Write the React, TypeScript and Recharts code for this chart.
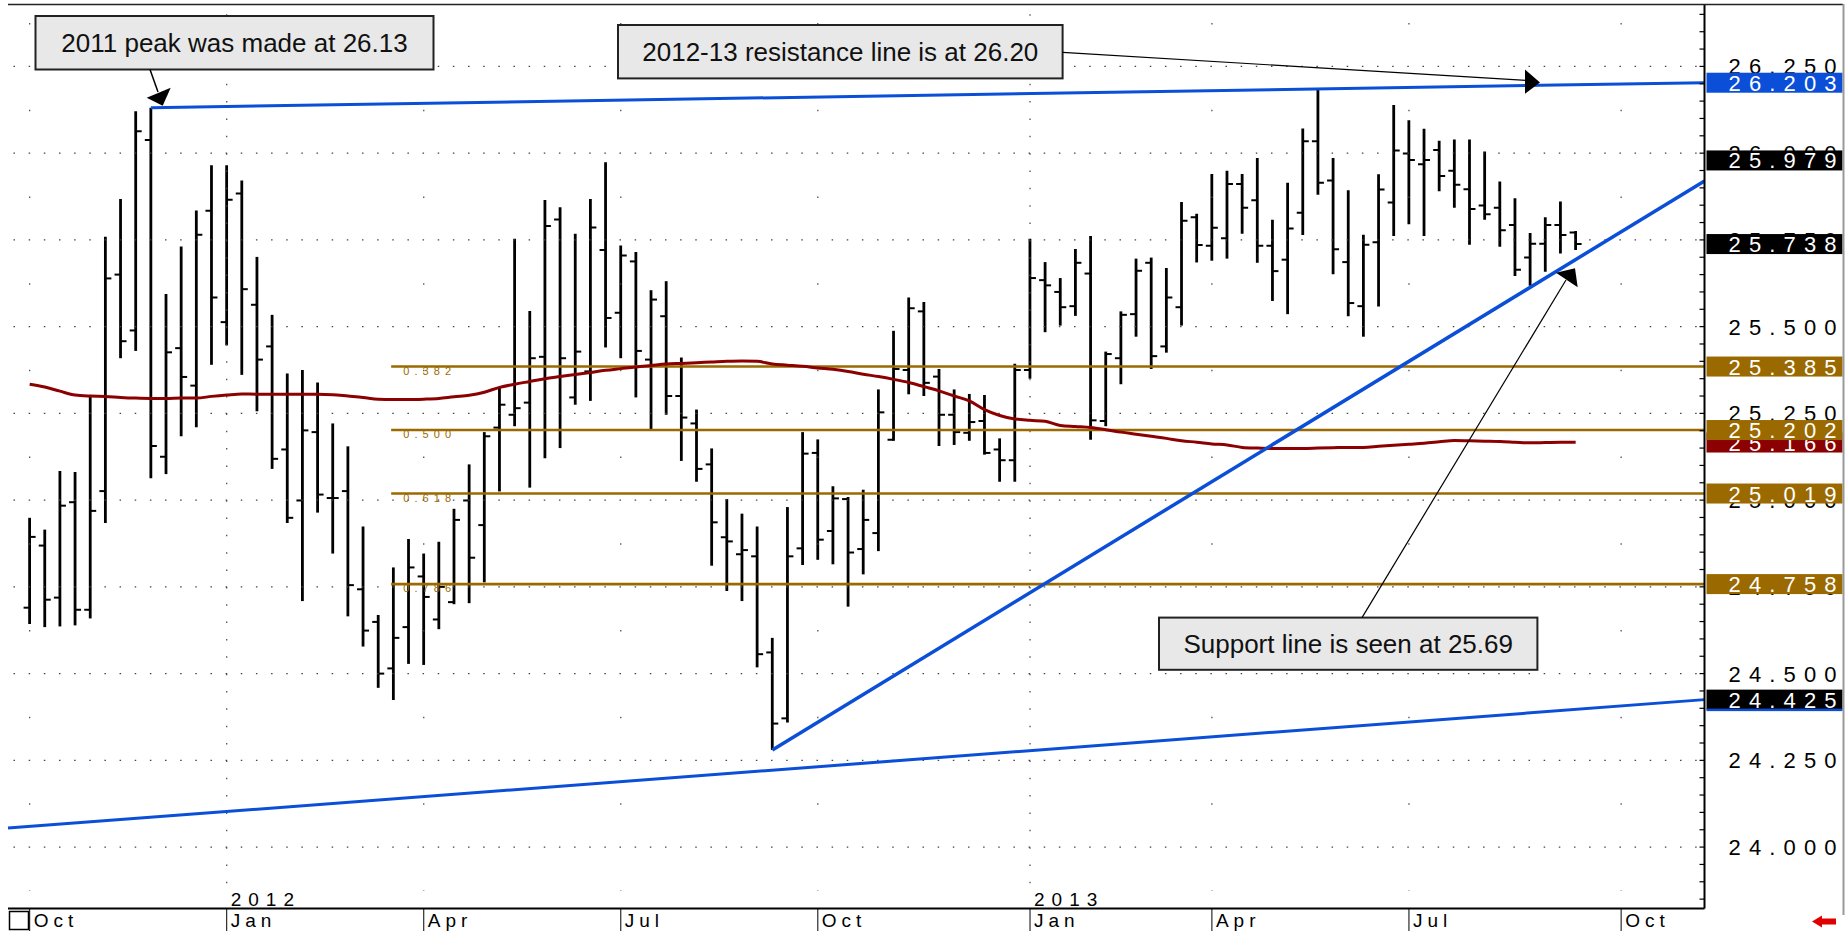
import React from "react";
import { ComposedChart, Bar, Line, XAxis, YAxis, ReferenceLine } from "recharts";

// weekly bars, Oct 2011 .. Aug 2013 (index = week number)
const opens = [
  24.69, 24.869, 24.719, 24.994, 24.684, 25.026, 25.65, 25.489, 26.038, 25.125,
  25.438, 25.33, 25.834, 25.513, 25.884, 25.563, 25.443, 25.146, 24.999, 25.196,
  25.006, 25.026, 24.743, 24.649, 24.515, 24.634, 24.78, 24.656, 24.706, 24.999,
  24.928, 25.209, 25.246, 25.281, 25.413, 25.809, 25.296, 25.371, 25.721, 25.54,
  25.688, 25.405, 25.53, 25.3, 25.221, 25.103, 24.893, 24.844, 24.838, 24.561,
  24.371, 24.861, 25.136, 24.911, 25.003, 24.859, 24.905, 25.174, 25.375, 25.544,
  25.356, 25.246, 25.194, 25.228, 25.146, 25.115, 25.375, 25.634, 25.6, 25.559,
  25.653, 25.228, 25.409, 25.536, 25.684, 25.443, 25.556, 25.815, 25.733, 25.755,
  25.911, 25.864, 25.733, 25.693, 25.828, 26.034, 25.921, 25.686, 25.559, 25.743,
  25.858, 25.999, 25.968, 26.009, 25.949, 25.896, 25.849, 25.843, 25.793, 25.699,
  25.739, 25.793, 25.771,
];
const highs = [
  24.949, 24.915, 25.084, 25.081, 25.303, 25.759, 25.868, 26.121, 26.131, 25.594,
  25.731, 25.835, 25.965, 25.965, 25.921, 25.701, 25.534, 25.365, 25.375, 25.339,
  25.221, 25.155, 24.924, 24.669, 24.806, 24.888, 24.846, 24.88, 24.975, 25.103,
  25.196, 25.325, 25.753, 25.545, 25.865, 25.844, 25.768, 25.868, 25.974, 25.734,
  25.715, 25.605, 25.631, 25.411, 25.261, 25.149, 25.003, 24.961, 24.924, 24.603,
  24.98, 25.196, 25.175, 25.04, 25.009, 25.03, 25.319, 25.488, 25.584, 25.571,
  25.378, 25.319, 25.306, 25.303, 25.178, 25.393, 25.753, 25.686, 25.64, 25.724,
  25.761, 25.428, 25.544, 25.696, 25.699, 25.669, 25.859, 25.825, 25.94, 25.949,
  25.94, 25.986, 25.808, 25.915, 26.071, 26.184, 25.986, 25.893, 25.765, 25.939,
  26.139, 26.095, 26.07, 26.036, 26.039, 26.039, 26.005, 25.918, 25.87, 25.77,
  25.815, 25.861, 25.776,
];
const lows = [
  24.643, 24.634, 24.636, 24.639, 24.659, 24.934, 25.409, 25.43, 25.063, 25.075,
  25.184, 25.21, 25.39, 25.446, 25.361, 25.256, 25.09, 24.934, 24.709, 24.964,
  24.846, 24.665, 24.578, 24.459, 24.424, 24.528, 24.525, 24.628, 24.7, 24.703,
  24.763, 25.025, 25.213, 25.036, 25.121, 25.15, 25.275, 25.286, 25.44, 25.409,
  25.296, 25.205, 25.246, 25.113, 25.053, 24.811, 24.738, 24.709, 24.518, 24.28,
  24.359, 24.813, 24.828, 24.815, 24.693, 24.786, 24.853, 25.171, 25.305, 25.3,
  25.156, 25.159, 25.171, 25.131, 25.053, 25.053, 25.35, 25.484, 25.503, 25.531,
  25.174, 25.213, 25.334, 25.471, 25.378, 25.425, 25.503, 25.685, 25.69, 25.696,
  25.768, 25.684, 25.574, 25.536, 25.764, 25.88, 25.651, 25.53, 25.471, 25.558,
  25.761, 25.795, 25.761, 25.89, 25.843, 25.736, 25.808, 25.73, 25.646, 25.618,
  25.658, 25.711, 25.721,
];
const closes = [
  24.894, 24.713, 24.984, 24.684, 24.969, 25.639, 25.458, 26.063, 25.156, 25.426,
  25.355, 25.765, 25.584, 25.866, 25.608, 25.405, 25.119, 24.949, 25.201, 25.016,
  25.006, 24.755, 24.624, 24.5, 24.603, 24.806, 24.721, 24.75, 24.943, 24.834,
  25.184, 25.275, 25.265, 25.409, 25.79, 25.409, 25.428, 25.786, 25.525, 25.705,
  25.43, 25.578, 25.3, 25.238, 25.09, 24.936, 24.881, 24.856, 24.556, 24.356,
  24.838, 25.134, 24.886, 25.005, 24.849, 24.943, 25.253, 25.378, 25.553, 25.338,
  25.246, 25.196, 25.225, 25.136, 25.115, 25.375, 25.64, 25.619, 25.556, 25.684,
  25.23, 25.421, 25.534, 25.661, 25.415, 25.584, 25.805, 25.735, 25.785, 25.911,
  25.843, 25.733, 25.66, 25.783, 26.034, 25.915, 25.723, 25.568, 25.736, 25.895,
  26.008, 25.98, 25.98, 25.934, 25.909, 25.839, 25.824, 25.778, 25.664, 25.739,
  25.793, 25.764, 25.738,
];
const movingAvg = [
  25.334, 25.326, 25.314, 25.303, 25.3, 25.299, 25.296, 25.294, 25.293, 25.293,
  25.294, 25.294, 25.299, 25.303, 25.306, 25.305, 25.305, 25.305, 25.305, 25.305,
  25.304, 25.3, 25.296, 25.291, 25.29, 25.29, 25.291, 25.293, 25.298, 25.302,
  25.311, 25.325, 25.334, 25.342, 25.35, 25.356, 25.362, 25.368, 25.374, 25.379,
  25.384, 25.388, 25.392, 25.394, 25.396, 25.398, 25.4, 25.401, 25.4, 25.392,
  25.389, 25.386, 25.381, 25.377, 25.371, 25.363, 25.356, 25.348, 25.339, 25.327,
  25.315, 25.3, 25.286, 25.261, 25.244, 25.234, 25.23, 25.227, 25.215, 25.212,
  25.209, 25.203, 25.196, 25.19, 25.184, 25.178, 25.171, 25.167, 25.162, 25.159,
  25.152, 25.15, 25.149, 25.149, 25.149, 25.15, 25.151, 25.152, 25.152, 25.155,
  25.158, 25.161, 25.164, 25.168, 25.172, 25.171, 25.17, 25.169, 25.167, 25.165,
  25.166, 25.167, 25.167,
];

const monthTicks = [0, 13, 26, 39, 52, 66, 78, 91, 105];
const monthLabels = ["Oct", "Jan", "Apr", "Jul", "Oct", "Jan", "Apr", "Jul", "Oct"];
const yearTicks = [13, 66];
const yearLabels = ["2012", "2013"];
const priceLabels = [24.0, 24.25, 24.5, 24.75, 25.0, 25.25, 25.5, 25.75, 26.0, 26.25];

const fibLevels = [25.385, 25.202, 25.019, 24.758];
const fibNames = ["0.382", "0.500", "0.618", "0.786"];
const fibStart = 23.85;

// trend lines: [week, price] pairs
const resistanceLine = [[8, 26.131], [110.5, 26.203]];
const supportLine = [[49, 24.28], [110.5, 25.92]];
const lowerLine = [[-1.43, 24.055], [110.5, 24.425]];

const tagValues = [26.203, 25.979, 25.738, 25.385, 25.166, 25.202, 25.019, 24.758, 24.425];
const tagKinds = ["blue", "black", "black", "fib", "ma", "fib", "fib", "fib", "lower"];

const XMIN = -1.43;
const XMAX = 110.5;
const YMIN = 23.823;
const YMAX = 26.427;

const BLUE = "#0b4fd8";
const FIB = "#9a6a00";
const MA = "#8b0000";
const FONT = "'Liberation Sans', Arial, sans-serif";

const data = opens.map((o, i) => ({
  i,
  open: o,
  high: highs[i],
  low: lows[i],
  close: closes[i],
  ma: movingAvg[i],
}));

const minorTicks: number[] = [];
for (let k = 0; k <= 51; k++) minorTicks.push(Math.round((23.85 + k * 0.05) * 100) / 100);

const tagBg: Record<string, string> = {
  blue: BLUE,
  black: "#000",
  fib: FIB,
  ma: MA,
  lower: "#000",
};

function OhlcShape(props: any) {
  const { x, y, width, height, payload } = props;
  if (height == null) return null;
  const cx = x + width / 2;
  const span = payload.high - payload.low || 1;
  const yo = y + ((payload.high - payload.open) / span) * height;
  const yc = y + ((payload.high - payload.close) / span) * height;
  return (
    <g>
      <line x1={cx} x2={cx} y1={y} y2={y + height} stroke="#000" strokeWidth={2.8} />
      <line x1={cx - 6} x2={cx} y1={yo} y2={yo} stroke="#000" strokeWidth={2} />
      <line x1={cx} x2={cx + 6} y1={yc} y2={yc} stroke="#000" strokeWidth={2} />
    </g>
  );
}

function RightTick(props: any) {
  const { x, y } = props;
  return <line x1={x - 5} x2={x} y1={y} y2={y} stroke="#000" strokeWidth={1.2} />;
}

function LeftTick(props: any) {
  const { x, y } = props;
  return <line x1={x} x2={x + 5} y1={y} y2={y} stroke="#000" strokeWidth={1.2} />;
}

function MonthTick(props: any) {
  const { x, y, payload } = props;
  const k = monthTicks.indexOf(payload.value);
  const yk = yearTicks.indexOf(payload.value);
  return (
    <g>
      <line x1={x} x2={x} y1={y} y2={y + 23} stroke="#000" strokeWidth={1} />
      <text x={x + 4} y={y + 18} fontFamily={FONT} fontSize={19} letterSpacing={5} fill="#000">
        {monthLabels[k]}
      </text>
      {yk >= 0 && (
        <text x={x + 4} y={y - 3} fontFamily={FONT} fontSize={19} letterSpacing={7} fill="#000">
          {yearLabels[yk]}
        </text>
      )}
    </g>
  );
}

const priceText = (v: number) => v.toFixed(3);

function AxisLabel(value: number) {
  return (props: any) => {
    const vb = props.viewBox;
    return (
      <text
        x={vb.x + vb.width + 24}
        y={vb.y + 8}
        fontFamily={FONT}
        fontSize={22}
        textLength={108}
        lengthAdjust="spacing"
        fill="#000"
      >
        {priceText(value)}
      </text>
    );
  };
}

function TagLabel(value: number, kind: string) {
  return (props: any) => {
    const vb = props.viewBox;
    const left = vb.x + vb.width + 2;
    return (
      <g>
        <rect x={left} y={vb.y - 10} width={136} height={20} fill={tagBg[kind]} />
        {kind === "lower" && <rect x={left} y={vb.y + 9} width={136} height={2.5} fill={BLUE} />}
        <text
          x={left + 22}
          y={vb.y + 8}
          fontFamily={FONT}
          fontSize={22}
          textLength={108}
          lengthAdjust="spacing"
          fill="#fff"
        >
          {priceText(value)}
        </text>
      </g>
    );
  };
}

function FibLabel(name: string) {
  return (props: any) => {
    const vb = props.viewBox;
    return (
      <text
        x={vb.x + 12}
        y={vb.y + 8}
        fontFamily={FONT}
        fontSize={11}
        textLength={48}
        lengthAdjust="spacing"
        fill={FIB}
      >
        {name}
      </text>
    );
  };
}

const seg = (p: number[][]) => [
  { x: p[0][0], y: p[0][1] },
  { x: p[1][0], y: p[1][1] },
];

function Callout(props: { x: number; y: number; w: number; h: number; text: string }) {
  const { x, y, w, h, text } = props;
  return (
    <g>
      <rect x={x} y={y} width={w} height={h} fill="#e8e8e8" stroke="#222" strokeWidth={2} />
      <text x={x + w / 2} y={y + h / 2 + 9.5} textAnchor="middle" fontFamily={FONT} fontSize={26} fill="#111">
        {text}
      </text>
    </g>
  );
}

export default function App() {
  return (
    <div style={{ position: "absolute", left: 0, top: 0, width: 1845, height: 931, background: "#fff" }}>
      <ComposedChart
        width={1845}
        height={931}
        data={data}
        margin={{ top: 5, right: 2.5, bottom: 0, left: 8 }}
      >
        <XAxis
          dataKey="i"
          type="number"
          domain={[XMIN, XMAX]}
          allowDataOverflow
          ticks={monthTicks}
          interval={0}
          tick={MonthTick}
          tickLine={false}
          tickSize={0}
          tickMargin={0}
          height={22.5}
          axisLine={{ stroke: "#000", strokeWidth: 2 }}
        />
        <YAxis
          yAxisId="l"
          orientation="left"
          type="number"
          width={0}
          domain={[YMIN, YMAX]}
          allowDataOverflow
          ticks={minorTicks}
          interval={0}
          tick={LeftTick}
          tickLine={false}
          tickSize={0}
          tickMargin={0}
          axisLine={{ stroke: "#000", strokeWidth: 2 }}
        />
        <YAxis
          yAxisId="p"
          orientation="right"
          type="number"
          width={138}
          domain={[YMIN, YMAX]}
          allowDataOverflow
          ticks={minorTicks}
          interval={0}
          tick={RightTick}
          tickLine={false}
          tickSize={0}
          tickMargin={0}
          axisLine={{ stroke: "#000", strokeWidth: 2 }}
        />

        {priceLabels.map((v) => (
          <ReferenceLine
            key={"g" + v}
            yAxisId="p"
            ifOverflow="visible"
            segment={[{ x: -1.066, y: v }, { x: XMAX, y: v }]}
            stroke="#444"
            strokeWidth={1.2}
            strokeDasharray="1.5 13.65"
            label={AxisLabel(v)}
          />
        ))}
        {monthTicks.map((t) => {
          const isYear = yearTicks.includes(t);
          return (
            <ReferenceLine
              key={"v" + t}
              yAxisId="p"
              ifOverflow="visible"
              segment={isYear ? [{ x: t, y: 26.4 }, { x: t, y: 23.85 }] : [{ x: t, y: 26.375 }, { x: t, y: 23.875 }]}
              stroke="#444"
              strokeWidth={1.2}
              strokeDasharray={isYear ? "1.5 15.85" : "1.5 85.2"}
            />
          );
        })}

        {fibLevels.map((v, k) => (
          <ReferenceLine
            key={"f" + v}
            yAxisId="p"
            ifOverflow="visible"
            segment={[{ x: fibStart, y: v }, { x: XMAX, y: v }]}
            stroke={FIB}
            strokeWidth={2.6}
            label={FibLabel(fibNames[k])}
          />
        ))}

        <Line
          yAxisId="p"
          dataKey="ma"
          type="monotone"
          dot={false}
          stroke={MA}
          strokeWidth={3}
          isAnimationActive={false}
        />
        <Bar
          yAxisId="p"
          dataKey={(d: any) => [d.low, d.high]}
          barSize={3}
          shape={OhlcShape}
          isAnimationActive={false}
        />

        <ReferenceLine yAxisId="p" ifOverflow="visible" segment={seg(lowerLine)} stroke={BLUE} strokeWidth={3} />
        <ReferenceLine yAxisId="p" ifOverflow="visible" segment={seg(resistanceLine)} stroke={BLUE} strokeWidth={3} />
        <ReferenceLine yAxisId="p" ifOverflow="visible" segment={seg(supportLine)} stroke={BLUE} strokeWidth={3.5} />

        {tagValues.map((v, k) => (
          <ReferenceLine
            key={"t" + v}
            yAxisId="p"
            ifOverflow="visible"
            y={v}
            stroke="none"
            label={TagLabel(v, tagKinds[k])}
          />
        ))}
      </ComposedChart>

      <svg
        width={1845}
        height={931}
        style={{ position: "absolute", left: 0, top: 0, pointerEvents: "none" }}
      >
        <line x1={8} x2={1843} y1={4.5} y2={4.5} stroke="#222" strokeWidth={1.5} />
        <line x1={1843.5} x2={1843.5} y1={4} y2={915} stroke="#999" strokeWidth={2} />
        <rect x={9.5} y={911.5} width={19} height={18} fill="#fff" stroke="#000" strokeWidth={1.5} />
        <polygon
          points="1812,921.5 1822,915.5 1822,918.5 1836,918.5 1836,924.5 1822,924.5 1822,927.5"
          fill="#e00000"
        />

        <Callout x={35.5} y={16} w={398} h={53.5} text="2011 peak was made at 26.13" />
        <line x1={150} y1={69.5} x2={158} y2={92} stroke="#000" strokeWidth={1.5} />
        <polygon points="146.7,97.7 170.7,87.7 162.7,105.7" fill="#000" />

        <Callout x={618} y={25} w={444.6} h={53.4} text="2012-13 resistance line is at 26.20" />
        <line x1={1062.6} y1={52.3} x2={1528} y2={80.5} stroke="#000" strokeWidth={1.2} />
        <polygon points="1525,69.5 1540,82.5 1525,93.8" fill="#000" />

        <Callout x={1159} y={617.6} w={378.4} h={52.2} text="Support line is seen at 25.69" />
        <line x1={1362} y1={617.6} x2={1566} y2={280} stroke="#000" strokeWidth={1.2} />
        <polygon points="1556,272.7 1575,268.3 1577.7,287.3" fill="#000" />
      </svg>
    </div>
  );
}
